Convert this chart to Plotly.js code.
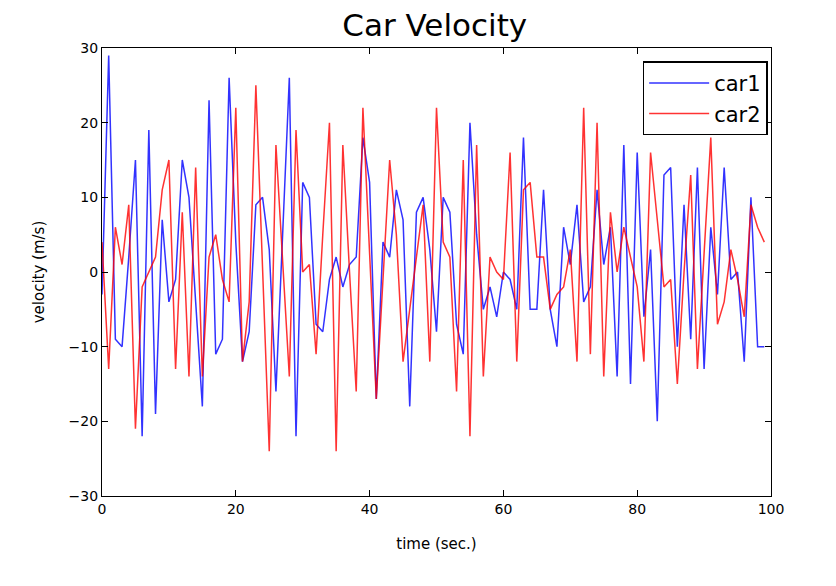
<!DOCTYPE html>
<html>
<head>
<meta charset="utf-8">
<script src="https://cdn.plot.ly/plotly-3.0.1.min.js"></script>
<style>body{margin:0;background:#fff}</style>
</head>
<body>
<div id="chart" style="width:836px;height:586px"></div>
<script>
// velocity readings (m/s) per second
const car1 = [-3, 29, -9, -10, 2, 15, -22, 19, -19, 7,
  -4, -1, 15, 10, -4, -18, 23, -11, -9, 26,
  4, -12, -8, 9, 10, 3, -16, 5, 26, -22,
  12, 10, -7, -8, -1, 2, -2, 1, 2, 18,
  12, -17, 4, 2, 11, 7, -18, 8, 10, 3,
  -8, 10, 8, -7, -11, 20, 5, -5, -2, -6,
  0, -1, -5, 18, -5, -5, 11, -5, -10, 6,
  1, 9, -4, -2, 11, 1, 6, -14, 17, -15,
  16, -6, 3, -20, 13, 14, -10, 9, -9, 14,
  -13, 6, -3, 14, -1, 0, -12, 10, -10, -10];
const car2 = [4, -13, 6, 1, 9, -21, -2, 0, 2, 11,
  15, -13, 8, -14, 14, -14, 2, 5, -1, -4,
  22, -12, -4, 25, 1, -24, 17, 2, -14, 19,
  0, 1, -11, 5, 20, -24, 17, 0, -16, 22,
  3, -17, -1, 15, 5, -12, -5, 2, 9, -12,
  22, 4, 2, -16, 15, -22, 17, -14, 2, 0,
  -1, 16, -12, 11, 12, 2, 2, -5, -3, -2,
  3, -12, 22, -11, 20, -14, 8, 0, 6, 2,
  -2, -12, 16, 7, -2, -1, -15, 0, 13, -13,
  3, 18, -7, -4, 3, -1, -6, 9, 6, 4];
const time = car1.map((_, i) => i);

const traces = [
  {x: time, y: car1, name: "car1", mode: "lines", line: {color: "#0000ff", width: 1.5}, opacity: 0.8},
  {x: time, y: car2, name: "car2", mode: "lines", line: {color: "#ff0000", width: 1.5}, opacity: 0.8}
];

const axis = {
  showgrid: false, zeroline: false, showline: true, mirror: "ticks",
  linecolor: "#000", linewidth: 1.2, ticks: "inside", ticklen: 6, tickcolor: "#000",
  tickfont: {family: "DejaVu Sans", size: 14, color: "#000"}
};

const layout = {
  width: 836, height: 586,
  margin: {l: 102, r: 65, t: 48, b: 90},
  paper_bgcolor: "#fff", plot_bgcolor: "#fff",
  font: {family: "DejaVu Sans", color: "#000"},
  title: {text: "Car Velocity", font: {size: 31}, x: 0.52, y: 0.975, yanchor: "top", xanchor: "center"},
  xaxis: Object.assign({}, axis, {range: [0, 100], dtick: 20,
    title: {text: "time (sec.)", font: {size: 15}, standoff: 22}}),
  yaxis: Object.assign({}, axis, {range: [-30, 30], dtick: 10,
    title: {text: "velocity (m/s)", font: {size: 15}, standoff: 20}}),
  legend: {x: 0.995, y: 0.97, xanchor: "right", yanchor: "top",
    bordercolor: "#000", borderwidth: 1.5, bgcolor: "#fff",
    font: {size: 21}, itemwidth: 60, tracegroupgap: 8}
};

Plotly.newPlot("chart", traces, layout, {displayModeBar: false});
</script>
</body>
</html>
